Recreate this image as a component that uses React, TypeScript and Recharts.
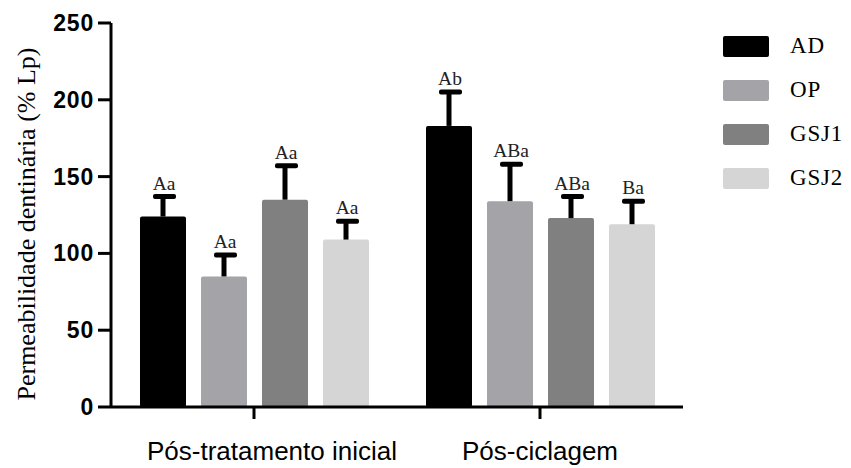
import React from "react";
import { BarChart, Bar, XAxis, YAxis, Legend } from "recharts";

const categories = ["Pós-tratamento inicial", "Pós-ciclagem"];
const seriesNames = ["AD", "OP", "GSJ1", "GSJ2"];
const adValues = [124, 183];
const opValues = [85, 134];
const gsj1Values = [135, 123];
const gsj2Values = [109, 119];
const adErr = [13, 22];
const opErr = [14, 24];
const gsj1Err = [22, 14];
const gsj2Err = [12, 15];
const adLabels = ["Aa", "Ab"];
const opLabels = ["Aa", "ABa"];
const gsj1Labels = ["Aa", "ABa"];
const gsj2Labels = ["Aa", "Ba"];
const yTicks = [0, 50, 100, 150, 200, 250];

const colors = ["#000000", "#a3a3a8", "#808080", "#d5d5d5"];

const data = categories.map((c, i) => ({
  name: c,
  AD: adValues[i],
  OP: opValues[i],
  GSJ1: gsj1Values[i],
  GSJ2: gsj2Values[i],
  AD_err: adErr[i],
  OP_err: opErr[i],
  GSJ1_err: gsj1Err[i],
  GSJ2_err: gsj2Err[i],
  AD_lab: adLabels[i],
  OP_lab: opLabels[i],
  GSJ1_lab: gsj1Labels[i],
  GSJ2_lab: gsj2Labels[i],
}));

const SERIF = "'Liberation Serif', 'Times New Roman', serif";
const SANS = "'Liberation Sans', Arial, sans-serif";

const makeShape = (key: string) => (props: any) => {
  const { x, y, width, height, fill, payload } = props;
  const v = payload[key];
  const err = payload[key + "_err"];
  const lab = payload[key + "_lab"];
  const k = v ? height / v : 0;
  const yErr = y - err * k;
  const cx = x + width / 2;
  return (
    <g>
      <rect x={x} y={y} width={width} height={height} fill={fill} rx={2} ry={2} />
      <line x1={cx} x2={cx} y1={y} y2={yErr} stroke="#000" strokeWidth={5} />
      <rect x={cx - 10} y={yErr - 2.5} width={23} height={5} rx={2} fill="#000" />
      <text x={cx + 1} y={yErr - 7} textAnchor="middle" fontFamily={SERIF} fontSize={19.5} fill="#222">
        {lab}
      </text>
    </g>
  );
};

const YTick = (props: any) => {
  const { x, y, payload } = props;
  return (
    <text x={x} y={y} dy={8} textAnchor="end" fontFamily={SANS} fontWeight="bold" fontSize={23} letterSpacing={0.8} fill="#000">
      {payload.value}
    </text>
  );
};

const XTick = (props: any) => {
  const { x, y, payload, index } = props;
  const dx = index === 0 ? 18 : 0;
  return (
    <text x={x + dx} y={y} dy={39} textAnchor="middle" fontFamily={SANS} fontSize={26} fill="#000">
      {payload.value}
    </text>
  );
};

const YLabel = () => {
  return (
    <text
      x={26}
      y={224}
      transform="rotate(-90 26 224)"
      textAnchor="middle"
      dominantBaseline="central"
      fontFamily={SERIF}
      fontSize={26}
      fill="#000"
    >
      Permeabilidade dentinária (% Lp)
    </text>
  );
};

const LegendContent = () => (
  <div style={{ display: "flex", flexDirection: "column" }}>
    {seriesNames.map((n, i) => (
      <div key={n} style={{ display: "flex", alignItems: "center", height: 44 }}>
        <div style={{ width: 46, height: 21, background: colors[i], borderRadius: 2 }} />
        <span style={{ marginLeft: 21, fontFamily: SERIF, fontSize: 23, letterSpacing: 0.8, color: "#000" }}>{n}</span>
      </div>
    ))}
  </div>
);

export default function App() {
  return (
    <div style={{ position: "absolute", left: 0, top: 0, width: 851, height: 468, background: "#fff" }}>
      <BarChart
        width={851}
        height={468}
        data={data}
        margin={{ top: 23, right: 168, left: 0, bottom: 0 }}
        barSize={46}
        barGap={15}
        barCategoryGap={28}
      >
        <XAxis
          dataKey="name"
          height={61}
          axisLine={{ stroke: "#000", strokeWidth: 3 }}
          tickLine={{ stroke: "#000", strokeWidth: 3 }}
          tickSize={12}
          tick={<XTick />}
          interval={0}
        />
        <YAxis
          width={111}
          domain={[0, 250]}
          ticks={yTicks}
          allowDataOverflow
          axisLine={{ stroke: "#000", strokeWidth: 3 }}
          tickLine={{ stroke: "#000", strokeWidth: 3 }}
          tickSize={13}
          tickMargin={4}
          tick={<YTick />}
          label={<YLabel />}
        />
        <Legend
          layout="vertical"
          align="center"
          verticalAlign="middle"
          content={<LegendContent />}
          wrapperStyle={{ left: 723, top: 24, width: 128, height: 180 }}
        />
        {seriesNames.map((n, i) => (
          <Bar key={n} dataKey={n} fill={colors[i]} isAnimationActive={false} shape={makeShape(n)} />
        ))}
      </BarChart>
    </div>
  );
}
